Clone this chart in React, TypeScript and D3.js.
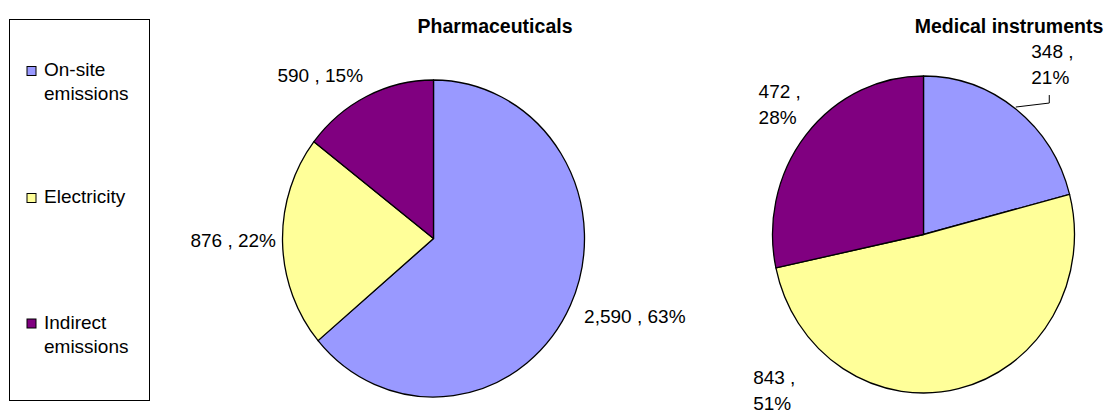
import * as d3 from 'd3'
import React from 'react'

// legend / categories
const categories = ['On-site emissions', 'Electricity', 'Indirect emissions']
const legendLines = [['On-site', 'emissions'], ['Electricity'], ['Indirect', 'emissions']]
const colors = ['#9999FF', '#FFFF99', '#800080']

// series values (tonnes) and the percentages printed on the labels
const pharmaValues = [2590, 876, 590]
const pharmaPercents = [63, 22, 15]
const medicalValues = [348, 843, 472]
const medicalPercents = [21, 51, 28]

const W = 1105
const H = 414
const RX = 151
const RY = 158.5
const FONT = "'Liberation Sans', Arial, Helvetica, sans-serif"
const LINE = 26

interface PieSpec {
  title: string
  values: number[]
  percents: number[]
  cx: number
  cy: number
  titleX: number
  wrap: boolean
  // label nudges from the slice edge point
  nudges: [number, number][]
  anchors: ('start' | 'end')[]
  leader: boolean[]
}

const pies: PieSpec[] = [
  {
    title: 'Pharmaceuticals',
    values: pharmaValues,
    percents: pharmaPercents,
    cx: 433.5,
    cy: 238.5,
    titleX: 495,
    wrap: false,
    nudges: [[13.7, 17.6], [-6.5, 5], [-3.8, -14.3]],
    anchors: ['start', 'end', 'end'],
    leader: [false, false, false]
  },
  {
    title: 'Medical instruments',
    values: medicalValues,
    percents: medicalPercents,
    cx: 923.5,
    cy: 234.5,
    titleX: 1009,
    wrap: true,
    nudges: [[15.5, -51], [-205.4, -4.5], [-47.4, -37]],
    anchors: ['start', 'start', 'start'],
    leader: [true, false, false]
  }
]

const fmt = d3.format(',')

function Pie({ spec }: { spec: PieSpec }) {
  const arcs = d3.pie<number>().sort(null).value(d => d)(spec.values)
  const arc = d3.arc<d3.PieArcDatum<number>>().innerRadius(0).outerRadius(RX)
  const sy = RY / RX

  return (
    <g>
      <text x={spec.titleX} y={33} textAnchor="middle" fontFamily={FONT}
        fontSize={19.5} fontWeight="bold" fill="#000">{spec.title}</text>
      <g transform={`translate(${spec.cx},${spec.cy}) scale(1,${sy})`}>
        {arcs.map((a, i) => (
          <path key={i} d={arc(a) as string} fill={colors[i]} stroke="#000"
            strokeWidth={1.3} vectorEffect="non-scaling-stroke" strokeLinejoin="round" />
        ))}
      </g>
      {arcs.map((a, i) => {
        const mid = (a.startAngle + a.endAngle) / 2
        const ex = spec.cx + Math.sin(mid) * RX
        const ey = spec.cy - Math.cos(mid) * RY
        const [dx, dy] = spec.nudges[i]
        const lx = ex + dx
        const ly = ey + dy
        const valueText = fmt(spec.values[i])
        const pctText = `${spec.percents[i]}%`
        const lines = spec.wrap ? [`${valueText} ,`, pctText] : [`${valueText} , ${pctText}`]
        const lead = spec.leader[i]
        const bx = lx + 18
        return (
          <g key={i}>
            {lead && (
              <polyline
                points={`${ex},${ey - 2} ${bx},${ey - 6} ${bx},${ly + LINE * (lines.length - 1) + 11}`}
                fill="none" stroke="#000" strokeWidth={1} />
            )}
            <text x={lx} y={ly} textAnchor={spec.anchors[i]} fontFamily={FONT} fontSize={19} fill="#000">
              {lines.map((l, j) => (
                <tspan key={j} x={lx} dy={j === 0 ? 0 : LINE}>{l}</tspan>
              ))}
            </text>
          </g>
        )
      })}
    </g>
  )
}

function Legend() {
  const rows = [76, 203, 328.5]
  return (
    <g>
      <rect x={9.5} y={19.5} width={140} height={381} fill="#fff" stroke="#000" strokeWidth={1} />
      {categories.map((c, i) => (
        <g key={c}>
          <rect x={27} y={rows[i] - 9.5} width={9} height={9} fill={colors[i]} stroke="#000" strokeWidth={1} />
          <text x={44} y={rows[i]} fontFamily={FONT} fontSize={19} fill="#000">
            {legendLines[i].map((l, j) => (
              <tspan key={j} x={44} dy={j === 0 ? 0 : 24.4}>{l}</tspan>
            ))}
          </text>
        </g>
      ))}
    </g>
  )
}

export default function App() {
  return (
    <svg width={W} height={H} style={{ position: 'absolute', left: 0, top: 0, display: 'block' }}
      role="img" aria-label="Emissions by source">
      <rect width={W} height={H} fill="#fff" />
      <Legend />
      {pies.map(p => <Pie key={p.title} spec={p} />)}
    </svg>
  )
}
